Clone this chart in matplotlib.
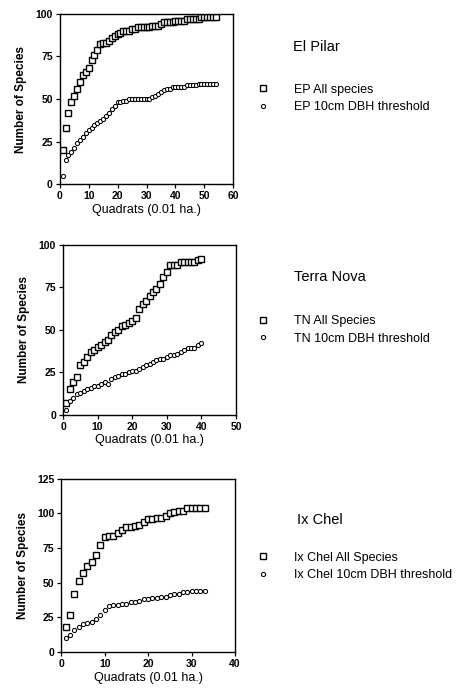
import numpy as np
import matplotlib
matplotlib.use("Agg")
import matplotlib.pyplot as plt

plt.rcParams['font.family'] = ['Liberation Sans', 'DejaVu Sans']

# El Pilar
ep_x = list(range(1, 55))
ep_all = [20, 33, 42, 48, 52, 56, 60, 64, 66, 68, 73, 76, 79, 82, 83, 83, 84, 86,
          87, 88, 89, 90, 90, 90, 91, 91, 92, 92, 92, 92, 92, 93, 93, 93, 94, 95,
          95, 95, 95, 96, 96, 96, 96, 97, 97, 97, 97, 97, 98, 98, 98, 98, 98, 98]
ep_10 = [5, 14, 17, 19, 21, 24, 26, 28, 30, 32, 33, 35, 36, 37, 38, 40, 42, 44,
         46, 48, 48, 49, 49, 50, 50, 50, 50, 50, 50, 50, 50, 51, 52, 53, 54, 55,
         56, 56, 57, 57, 57, 57, 57, 58, 58, 58, 58, 59, 59, 59, 59, 59, 59, 59]

# Terra Nova
tn_x = list(range(1, 41))
tn_all = [7, 15, 19, 22, 29, 31, 34, 37, 38, 40, 41, 43, 44, 47, 49, 50, 52, 53,
          54, 55, 57, 62, 65, 67, 70, 72, 74, 77, 81, 84, 88, 88, 88, 90, 90, 90,
          90, 90, 91, 92]
tn_10 = [3, 8, 10, 12, 13, 14, 15, 16, 17, 17, 18, 19, 18, 21, 22, 23, 24, 24,
         25, 26, 26, 27, 28, 29, 30, 31, 32, 33, 33, 34, 35, 35, 36, 37, 38, 39,
         39, 39, 41, 42]

# Ix Chel
ic_x = list(range(1, 34))
ic_all = [18, 27, 42, 51, 57, 62, 65, 70, 77, 83, 84, 84, 86, 88, 90, 90, 91, 92,
          94, 96, 96, 97, 97, 98, 100, 101, 102, 102, 104, 104, 104, 104, 104]
ic_10 = [10, 12, 16, 18, 20, 21, 22, 24, 27, 30, 33, 34, 34, 35, 35, 36, 36, 37,
         38, 38, 39, 39, 40, 40, 41, 42, 42, 43, 43, 44, 44, 44, 44]

panels = [
    dict(x=ep_x, a=ep_all, b=ep_10, xmax=60, ymax=100, title='El Pilar',
         la='EP All species', lb='EP 10cm DBH threshold',
         rect=[0.130, 0.733, 0.377, 0.247], tx=0.637, ty=0.932, ly=0.857),
    dict(x=tn_x, a=tn_all, b=tn_10, xmax=50, ymax=100, title='Terra Nova',
         la='TN All Species', lb='TN 10cm DBH threshold',
         rect=[0.137, 0.399, 0.376, 0.246], tx=0.639, ty=0.599, ly=0.522),
    dict(x=ic_x, a=ic_all, b=ic_10, xmax=40, ymax=125, title='Ix Chel',
         la='Ix Chel All Species', lb='Ix Chel 10cm DBH threshold',
         rect=[0.133, 0.055, 0.378, 0.251], tx=0.645, ty=0.246, ly=0.179),
]

fig = plt.figure(figsize=(4.6, 6.9), dpi=100)

for p in panels:
    ax = fig.add_axes(p['rect'])
    h1, = ax.plot(p['x'], p['a'], linestyle='none', marker='s', markersize=4.8,
                  markerfacecolor='white', markeredgecolor='black', markeredgewidth=1.0)
    h2, = ax.plot(p['x'], p['b'], linestyle='none', marker='o', markersize=3.0,
                  markerfacecolor='white', markeredgecolor='black', markeredgewidth=0.75)
    ax.set_xlim(0, p['xmax'])
    ax.set_ylim(0, p['ymax'])
    ax.set_xticks(np.arange(0, p['xmax'] + 1, 10))
    ax.set_yticks(np.arange(0, p['ymax'] + 1, 25))
    ax.tick_params(direction='out', length=3, width=0.9, labelsize=7.5, pad=2)
    for lab in ax.get_xticklabels() + ax.get_yticklabels():
        lab.set_fontweight('bold')
    for s in ax.spines.values():
        s.set_linewidth(1.0)
    ax.set_xlabel('Quadrats (0.01 ha.)', fontsize=9, labelpad=2)
    ax.set_ylabel('Number of Species', fontsize=8.5, fontweight='bold', labelpad=6)

    fig.text(p['tx'], p['ty'], p['title'], fontsize=10.5, ha='left', va='center')
    fig.legend([h1, h2], [p['la'], p['lb']], loc='center left',
               bbox_to_anchor=(0.559, p['ly']), frameon=False, fontsize=9,
               handlelength=1.0, handletextpad=1.95, labelspacing=0.45,
               borderaxespad=0, borderpad=0)

fig.savefig('out.png', dpi=100)
